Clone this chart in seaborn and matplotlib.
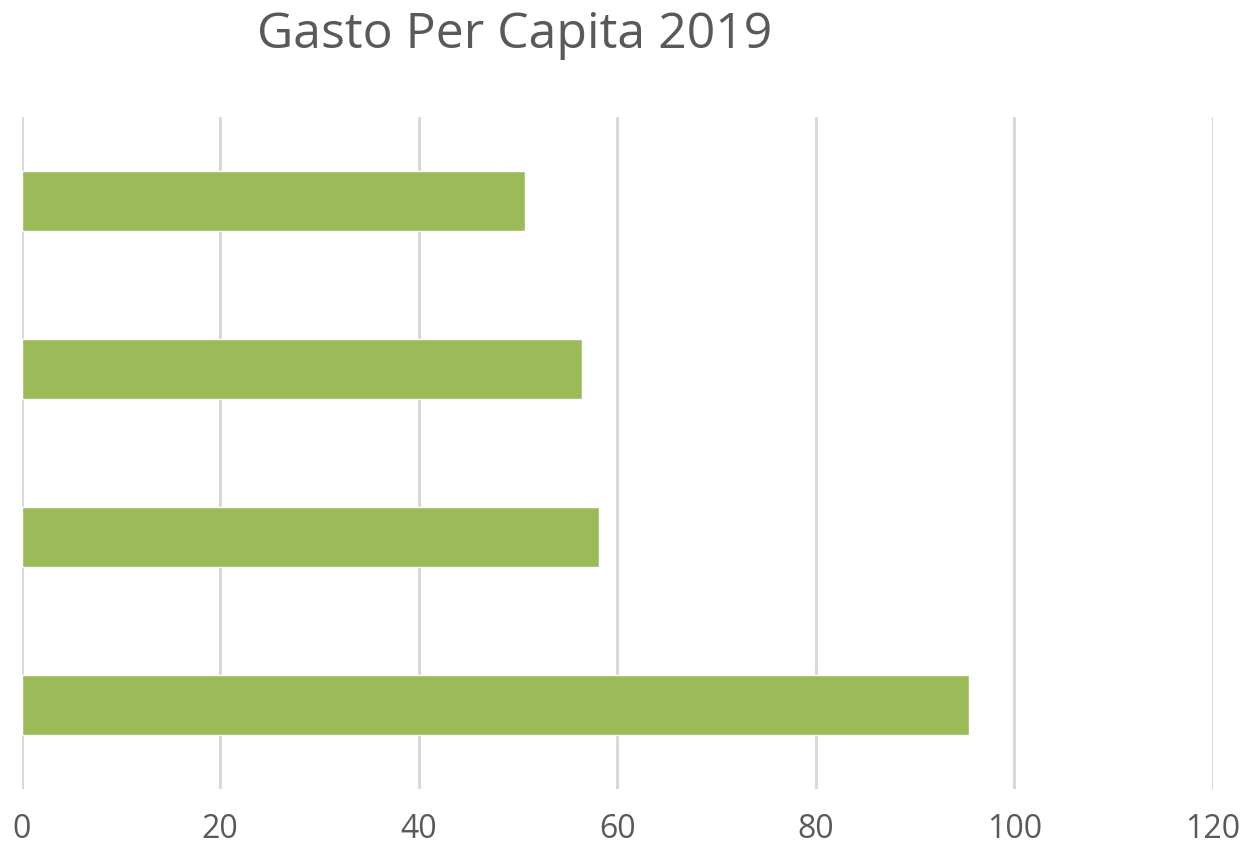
import pandas as pd
import seaborn as sns
import matplotlib.pyplot as plt

# values (category names are not shown in it)
categories = ["Cat 1", "Cat 2", "Cat 3", "Cat 4"]
gasto = [50.7, 56.5, 58.2, 95.5]
xticks = [0, 20, 40, 60, 80, 100, 120]

df = pd.DataFrame({"categoria": categories, "gasto": gasto})

sns.set_style("white")
plt.rcParams["font.family"] = ["Open Sans", "DejaVu Sans"]

fig = plt.figure(figsize=(12.45, 8.49), dpi=100)
ax = fig.add_axes([21.5 / 1245, 1 - 789 / 849, (1212.7 - 21.5) / 1245, (789 - 117) / 849])

sns.barplot(data=df, x="gasto", y="categoria", orient="h", color="#9BBB59",
            width=0.36, saturation=1, ax=ax, zorder=3)

ax.set_xlim(0, 120)
ax.set_ylim(3.5, -0.5)
ax.set_xticks(xticks)
ax.set_xticklabels([str(t) for t in xticks], fontsize=23, color="#595959")
ax.set_yticks([])
ax.set_xlabel("")
ax.set_ylabel("")
ax.tick_params(axis="x", length=0, pad=17)
ax.grid(axis="x", color="#d9d9d9", linewidth=2.2, zorder=0)
ax.grid(axis="y", visible=False)
for s in ax.spines.values():
    s.set_visible(False)

fig.text(515 / 1245, 1 - 35 / 849, "Gasto Per Capita 2019", ha="center", va="center",
         fontsize=36, color="#595959")

fig.savefig("out.png", dpi=100)
